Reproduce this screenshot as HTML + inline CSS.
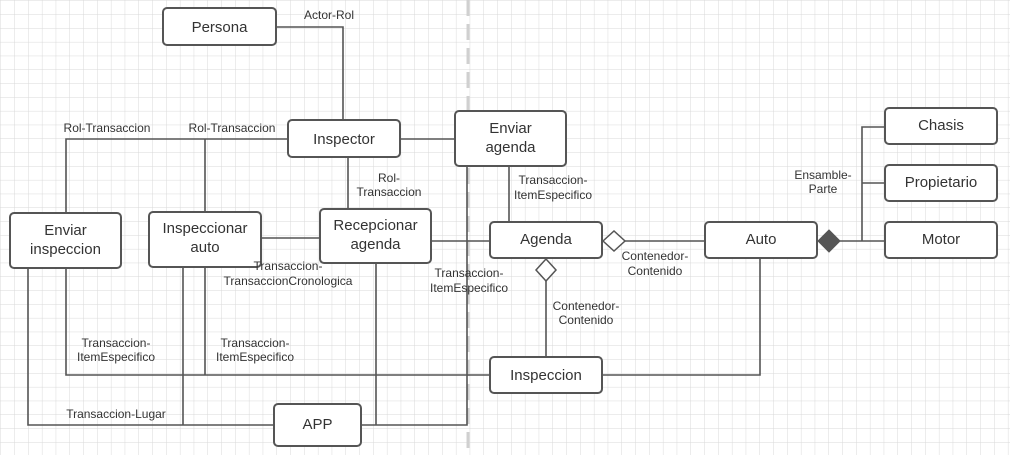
<!DOCTYPE html>
<html><head><meta charset="utf-8"><style>
html,body{margin:0;padding:0;background:#fff;}
svg{display:block;}
text{font-family:"Liberation Sans",sans-serif;fill:#333;}
.b{fill:#fff;stroke:#555;stroke-width:2;}
.l{fill:none;stroke:#555;stroke-width:1.6;}
.t{font-size:15px;text-anchor:middle;}
.s{font-size:12px;text-anchor:middle;}
</style></head><body>
<svg width="1010" height="455" viewBox="0 0 1010 455" xmlns="http://www.w3.org/2000/svg">
<defs>
<pattern id="g" width="13.8" height="13.8" patternUnits="userSpaceOnUse" x="1" y="1">
<path d="M13.8 0V13.8H0" fill="none" stroke="#d9d9d9" stroke-width="1"/>
</pattern>
</defs>
<rect width="1010" height="455" fill="url(#g)"/>
<line x1="468" y1="0" x2="468" y2="455" stroke="#d0d0d0" stroke-width="3" stroke-dasharray="16 8"/>

<path class="l" d="M276 27H343V120"/>
<path class="l" d="M288 139H66V213M205 139V212"/>
<path class="l" d="M400 139H455"/>
<path class="l" d="M348 157V209"/>
<path class="l" d="M261 238H320"/>
<path class="l" d="M431 241H490"/>
<path class="l" d="M467 166V425H361M376 263V425"/>
<path class="l" d="M509 166V222"/>
<path class="l" d="M625 241H705"/>
<path class="l" d="M546 281V357"/>
<path class="l" d="M760 258V375H602"/>
<path class="l" d="M840 241H885M862 241V127H885M862 183H885"/>
<path class="l" d="M28 268V425H274M183 267V425"/>
<path class="l" d="M66 268V375H490M205 267V375"/>

<polygon points="603,241 614,231 625,241 614,251" fill="#fff" stroke="#555" stroke-width="1.5"/>
<polygon points="546,259 556,270 546,281 536,270" fill="#fff" stroke="#555" stroke-width="1.5"/>
<polygon points="818,241 829,230 840,241 829,252" fill="#555" stroke="#555" stroke-width="1"/>

<rect class="b" x="163" y="8" width="113" height="37" rx="4"/>
<text class="t" x="219.5" y="32">Persona</text>
<rect class="b" x="288" y="120" width="112" height="37" rx="4"/>
<text class="t" x="344" y="144">Inspector</text>
<rect class="b" x="455" y="111" width="111" height="55" rx="4"/>
<text class="t" x="510.5" y="133">Enviar</text><text class="t" x="510.5" y="152">agenda</text>
<rect class="b" x="10" y="213" width="111" height="55" rx="4"/>
<text class="t" x="65.5" y="235">Enviar</text><text class="t" x="65.5" y="254">inspeccion</text>
<rect class="b" x="149" y="212" width="112" height="55" rx="4"/>
<text class="t" x="205" y="233">Inspeccionar</text><text class="t" x="205" y="252">auto</text>
<rect class="b" x="320" y="209" width="111" height="54" rx="4"/>
<text class="t" x="375.5" y="230">Recepcionar</text><text class="t" x="375.5" y="249">agenda</text>
<rect class="b" x="490" y="222" width="112" height="36" rx="4"/>
<text class="t" x="546" y="244">Agenda</text>
<rect class="b" x="705" y="222" width="112" height="36" rx="4"/>
<text class="t" x="761" y="244">Auto</text>
<rect class="b" x="885" y="108" width="112" height="36" rx="4"/>
<text class="t" x="941" y="130">Chasis</text>
<rect class="b" x="885" y="165" width="112" height="36" rx="4"/>
<text class="t" x="941" y="187">Propietario</text>
<rect class="b" x="885" y="222" width="112" height="36" rx="4"/>
<text class="t" x="941" y="244">Motor</text>
<rect class="b" x="490" y="357" width="112" height="36" rx="4"/>
<text class="t" x="546" y="380">Inspeccion</text>
<rect class="b" x="274" y="404" width="87" height="42" rx="4"/>
<text class="t" x="317.5" y="429">APP</text>

<text class="s" x="329" y="19">Actor-Rol</text>
<text class="s" x="107" y="132">Rol-Transaccion</text>
<text class="s" x="232" y="132">Rol-Transaccion</text>
<text class="s" x="389" y="182">Rol-</text><text class="s" x="389" y="196">Transaccion</text>
<text class="s" x="288" y="270">Transaccion-</text><text class="s" x="288" y="285">TransaccionCronologica</text>
<text class="s" x="469" y="277">Transaccion-</text><text class="s" x="469" y="292">ItemEspecifico</text>
<text class="s" x="553" y="184">Transaccion-</text><text class="s" x="553" y="199">ItemEspecifico</text>
<text class="s" x="655" y="260">Contenedor-</text><text class="s" x="655" y="275">Contenido</text>
<text class="s" x="586" y="310">Contenedor-</text><text class="s" x="586" y="324">Contenido</text>
<text class="s" x="823" y="179">Ensamble-</text><text class="s" x="823" y="193">Parte</text>
<text class="s" x="116" y="347">Transaccion-</text><text class="s" x="116" y="361">ItemEspecifico</text>
<text class="s" x="255" y="347">Transaccion-</text><text class="s" x="255" y="361">ItemEspecifico</text>
<text class="s" x="116" y="418">Transaccion-Lugar</text>
</svg>
</body></html>
